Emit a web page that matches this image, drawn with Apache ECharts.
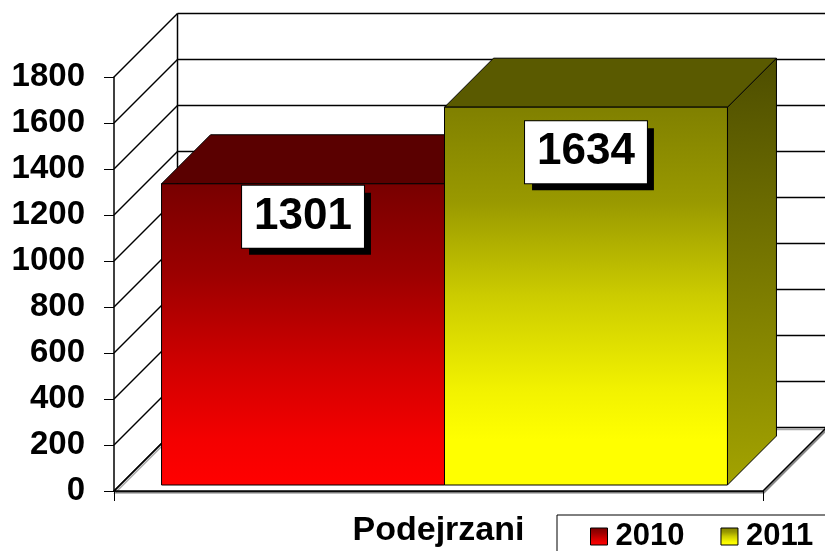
<!DOCTYPE html>
<html>
<head>
<meta charset="utf-8">
<script src="https://cdn.jsdelivr.net/npm/echarts@6/dist/echarts.min.js"></script>
<style>
html, body { margin: 0; padding: 0; background: #fff; }
#main { width: 825px; height: 551px; }
</style>
</head>
<body>
<div id="main"></div>
<script>
// data
var categories = ['Podejrzani'];
var seriesNames = ['2010', '2011'];
var values2010 = [1301];
var values2011 = [1634];
var yTicks = [0, 200, 400, 600, 800, 1000, 1200, 1400, 1600, 1800];
var yMin = 0, yMax = 1800, yStep = 200;

// 3d look (pixels)
var DEPTH = 63.5;      // depth of walls / floor
var BAR_FRONT = 6;     // bar front face depth
var BAR_BACK = 55;     // bar back face depth
var BAR_FRAC = 0.436;  // share of category band for one bar

var fontFam = '"Liberation Sans", Arial, sans-serif';

function grad(stops) {
    return new echarts.graphic.LinearGradient(0, 0, 0, 1, stops.map(function (s) {
        return { offset: s[0], color: s[1] };
    }));
}

var redCol = {
    front: [[0, '#780000'], [0.3, '#9c0000'], [0.6, '#d00000'], [0.85, '#f40000'], [1, '#ff0000']],
    top: '#5a0000',
    side: ['#4a0000', '#a00000']
};
var yelCol = {
    front: [[0, '#808000'], [0.25, '#999900'], [0.5, '#cccc00'], [0.75, '#f2f200'], [0.88, '#ffff00'], [1, '#ffff00']],
    top: '#5a5a00',
    side: ['#4d4d00', '#a3a300']
};

// walls + floor
function wallRender(params, api) {
    var cs = params.coordSys;
    var v = api.value(1);
    var y = api.coord([0, v])[1];
    var left = cs.x, right = cs.x + cs.width;
    var kids = [];
    if (v === yMin) {
        kids.push({
            type: 'polygon',
            shape: { points: [[left, y], [right, y], [right + DEPTH, y - DEPTH], [left + DEPTH, y - DEPTH]] },
            style: { fill: '#fff', stroke: '#000', lineWidth: 1.5, shadowColor: 'rgba(0,0,0,0.35)', shadowOffsetX: 1, shadowOffsetY: 2 }
        });
        var yTop = api.coord([0, yMax])[1];
        kids.push({
            type: 'line',
            shape: { x1: left + DEPTH, y1: yTop - DEPTH, x2: left + DEPTH, y2: y - DEPTH },
            style: { stroke: '#000', lineWidth: 1.5 }
        });
    } else {
        kids.push({
            type: 'line',
            shape: { x1: left + DEPTH, y1: y - DEPTH, x2: right + DEPTH, y2: y - DEPTH },
            style: { stroke: '#000', lineWidth: 1.5 }
        });
    }
    kids.push({
        type: 'line',
        shape: { x1: left, y1: y, x2: left + DEPTH, y2: y - DEPTH },
        style: { stroke: '#000', lineWidth: 1.5 }
    });
    return { type: 'group', children: kids };
}

function makeBar(idx, col, labelDrop) {
    return function (params, api) {
        var top = api.coord([api.value(0), api.value(1)]);
        var base = api.coord([api.value(0), 0]);
        var band = api.size([1, 0])[0];
        var w = band * BAR_FRAC;
        var x0 = top[0] - w + idx * w;
        var x1 = x0 + w;
        var yT = top[1] - 2, yB = base[1];
        var f = BAR_FRONT, b = BAR_BACK;
        var txt = String(api.value(1));
        var lblFont = 'bold 44px ' + fontFam;
        var cx = (x0 + x1) / 2 + f;
        var ly = yT - f + labelDrop;
        return {
            type: 'group',
            children: [
                {
                    type: 'polygon',
                    shape: { points: [[x1 + f, yT - f], [x1 + b, yT - b], [x1 + b, yB - b], [x1 + f, yB - f]] },
                    style: { fill: new echarts.graphic.LinearGradient(0, 0, 0.4, 1, [{ offset: 0, color: col.side[0] }, { offset: 1, color: col.side[1] }]), stroke: '#000', lineWidth: 1 }
                },
                {
                    type: 'polygon',
                    shape: { points: [[x0 + f, yT - f], [x1 + f, yT - f], [x1 + b, yT - b], [x0 + b, yT - b]] },
                    style: { fill: col.top, stroke: '#000', lineWidth: 1 }
                },
                {
                    type: 'rect',
                    shape: { x: x0 + f, y: yT - f, width: w, height: yB - yT },
                    style: { fill: grad(col.front), stroke: '#000', lineWidth: 1 }
                },
                {
                    type: 'text',
                    x: cx + 7, y: ly + 7,
                    style: {
                        text: txt, font: lblFont, fill: 'rgba(0,0,0,0)', align: 'center', verticalAlign: 'top',
                        lineHeight: 46, backgroundColor: '#000', padding: [8, 12, 8, 12]
                    }
                },
                {
                    type: 'text',
                    x: cx, y: ly,
                    style: {
                        text: txt, font: lblFont, fill: '#000', align: 'center', verticalAlign: 'top',
                        lineHeight: 46, backgroundColor: '#fff', borderColor: '#000', borderWidth: 1,
                        padding: [8, 12, 8, 12]
                    }
                }
            ]
        };
    };
}

var chart = echarts.init(document.getElementById('main'));

var option = {
    animation: false,
    backgroundColor: '#fff',
    grid: { left: 114, right: 62, top: 77, bottom: 60 },
    xAxis: {
        type: 'category',
        data: categories,
        boundaryGap: true,
        axisLine: { lineStyle: { color: '#000', width: 1.5 } },
        axisTick: { show: true, length: 10, lineStyle: { color: '#000', width: 1 } },
        axisLabel: { color: '#000', fontSize: 34, fontWeight: 'bold', fontFamily: fontFam, margin: 23 }
    },
    yAxis: {
        type: 'value',
        min: yMin,
        max: yMax,
        interval: yStep,
        splitLine: { show: false },
        axisLine: { show: true, lineStyle: { color: '#000', width: 1.5 } },
        axisTick: { show: true, length: 10, lineStyle: { color: '#000', width: 1 } },
        axisLabel: {
            color: '#000', fontSize: 33, fontWeight: 'bold', fontFamily: fontFam, margin: 29,
            formatter: function (v) { return String(v); }
        }
    },
    legend: {
        data: [
            { name: seriesNames[0], itemStyle: { color: grad(redCol.front), borderColor: '#000', borderWidth: 1 } },
            { name: seriesNames[1], itemStyle: { color: grad(yelCol.front), borderColor: '#000', borderWidth: 1 } }
        ],
        left: 557,
        top: 515,
        width: 400,
        icon: 'rect',
        itemWidth: 17,
        itemHeight: 17,
        itemGap: 36,
        padding: [6, 40, 12, 33],
        borderColor: '#000',
        borderWidth: 1,
        backgroundColor: '#fff',
        textStyle: { color: '#000', fontSize: 31, fontWeight: 'bold', fontFamily: fontFam, padding: [0, 0, 0, 3] }
    },
    series: [
        {
            type: 'custom',
            name: 'walls',
            z: 1,
            clip: false,
            silent: true,
            renderItem: wallRender,
            data: yTicks.map(function (v) { return [0, v]; })
        },
        {
            type: 'custom',
            name: seriesNames[0],
            z: 3,
            clip: false,
            itemStyle: { color: '#ff0000' },
            renderItem: makeBar(0, redCol, 2),
            data: values2010.map(function (v, i) { return [i, v]; })
        },
        {
            type: 'custom',
            name: seriesNames[1],
            z: 4,
            clip: false,
            itemStyle: { color: '#ffff00' },
            renderItem: makeBar(1, yelCol, 14),
            data: values2011.map(function (v, i) { return [i, v]; })
        }
    ]
};

chart.setOption(option);
</script>
</body>
</html>
